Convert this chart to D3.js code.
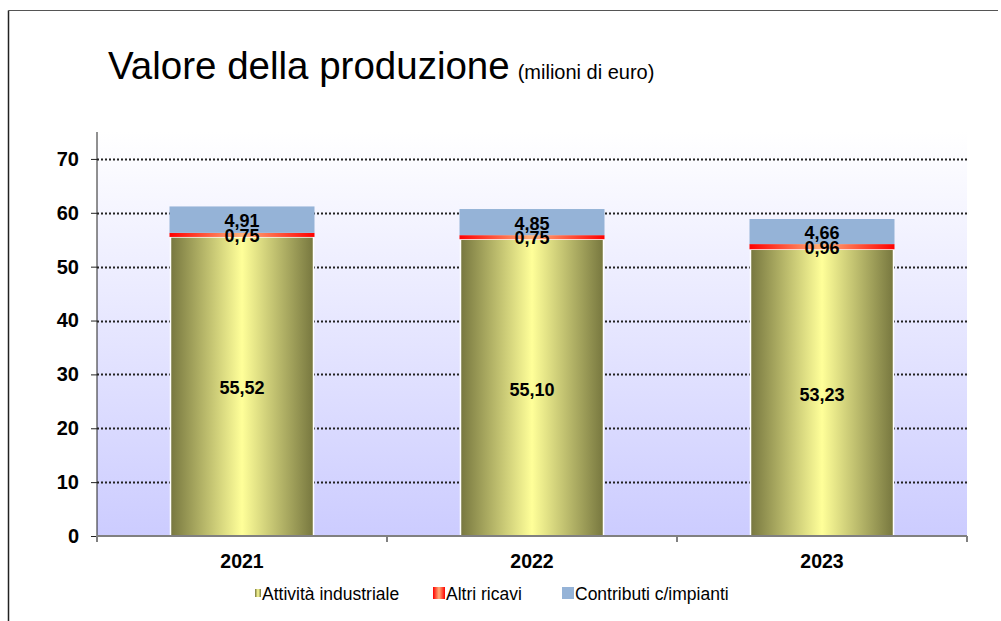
<!DOCTYPE html>
<html lang="it">
<head>
    <meta charset="UTF-8">
    <title>Valore della produzione</title>
    <script src="https://cdn.jsdelivr.net/npm/d3@7"></script>
    <style>
        body { margin: 0; background: #fff; }
        text { font-family: Arial, "Liberation Sans", sans-serif; }
    </style>
</head>
<body>
<script type="text/javascript">
    var years = ['2021', '2022', '2023'];
    var attivita = [55.52, 55.10, 53.23];
    var altri = [0.75, 0.75, 0.96];
    var contributi = [4.91, 4.85, 4.66];
    var yTicks = [0, 10, 20, 30, 40, 50, 60, 70];
    var seriesNames = ['Attività industriale', 'Altri ricavi', 'Contributi c/impianti'];

    var width = 1001;
    var height = 621;
    var svg = d3.select('body').append('svg')
            .attr('width', width)
            .attr('height', height);

    var defs = svg.append('defs');
    var bg = defs.append('linearGradient').attr('id', 'bg')
            .attr('x1', 0).attr('y1', 0).attr('x2', 0).attr('y2', 1);
    bg.append('stop').attr('offset', '0%').attr('stop-color', '#ffffff');
    bg.append('stop').attr('offset', '100%').attr('stop-color', '#ccccff');

    var olive = defs.append('linearGradient').attr('id', 'olive')
            .attr('x1', 0).attr('y1', 0).attr('x2', 1).attr('y2', 0);
    olive.append('stop').attr('offset', '0%').attr('stop-color', '#77773f');
    olive.append('stop').attr('offset', '50%').attr('stop-color', '#ffff99');
    olive.append('stop').attr('offset', '100%').attr('stop-color', '#77773f');

    var red = defs.append('linearGradient').attr('id', 'red')
            .attr('x1', 0).attr('y1', 0).attr('x2', 1).attr('y2', 0);
    red.append('stop').attr('offset', '0%').attr('stop-color', '#ff0000');
    red.append('stop').attr('offset', '50%').attr('stop-color', '#ffb07a');
    red.append('stop').attr('offset', '100%').attr('stop-color', '#ff0000');

    // cornice
    svg.append('line').attr('x1', 8.5).attr('y1', 10.5).attr('x2', 998).attr('y2', 10.5)
            .attr('stroke', '#555').attr('stroke-width', 1);
    svg.append('line').attr('x1', 8.5).attr('y1', 10.5).attr('x2', 8.5).attr('y2', 621)
            .attr('stroke', '#222').attr('stroke-width', 1.5);

    // titolo
    var title = svg.append('text').attr('x', 108).attr('y', 79);
    title.append('tspan').attr('font-size', 38.5).text('Valore della produzione');
    title.append('tspan').attr('font-size', 20).attr('dx', 8).text('(milioni di euro)');

    var pLeft = 97, pRight = 967, pTop = 132, pBottom = 536;
    var x = d3.scaleBand().domain(years).range([pLeft, pRight]).paddingInner(0.5).paddingOuter(0.25);
    var y = d3.scaleLinear().domain([0, 75]).range([pBottom, pTop]);

    svg.append('rect').attr('x', pLeft).attr('y', pTop)
            .attr('width', pRight - pLeft).attr('height', pBottom - pTop)
            .attr('fill', 'url(#bg)');

    // griglia
    svg.selectAll('.grid').data(yTicks.slice(1)).enter().append('line')
            .attr('class', 'grid')
            .attr('x1', pLeft).attr('x2', pRight)
            .attr('y1', function (d) { return Math.round(y(d)) + 0.5; })
            .attr('y2', function (d) { return Math.round(y(d)) + 0.5; })
            .attr('stroke', '#222').attr('stroke-width', 2)
            .attr('stroke-dasharray', '2,2');

    // barre
    var bw = x.bandwidth();
    var stacks = years.map(function (d, i) {
        return {year: d, a: attivita[i], r: altri[i], c: contributi[i]};
    });
    var g = svg.selectAll('.bar').data(stacks).enter().append('g').attr('class', 'bar');
    g.append('rect')
            .attr('x', function (d) { return x(d.year) + 1; })
            .attr('y', function (d) { return y(d.a); })
            .attr('width', bw - 2)
            .attr('height', function (d) { return y(0) - y(d.a); })
            .attr('fill', 'url(#olive)')
            .attr('stroke', '#fff').attr('stroke-width', 1.5);
    g.append('rect')
            .attr('x', function (d) { return x(d.year); })
            .attr('y', function (d) { return y(d.a + d.r); })
            .attr('width', bw)
            .attr('height', function (d) { return y(d.a) - y(d.a + d.r); })
            .attr('fill', 'url(#red)');
    g.append('rect')
            .attr('x', function (d) { return x(d.year); })
            .attr('y', function (d) { return y(d.a + d.r + d.c); })
            .attr('width', bw)
            .attr('height', function (d) { return y(d.a + d.r) - y(d.a + d.r + d.c); })
            .attr('fill', '#95b3d7');

    var fmt = function (v) { return v.toFixed(2).replace('.', ','); };
    g.append('text')
            .attr('x', function (d) { return x(d.year) + bw / 2; })
            .attr('y', function (d) { return y(d.a / 2) + 8; })
            .attr('text-anchor', 'middle').attr('font-weight', 'bold').attr('font-size', 18)
            .text(function (d) { return fmt(d.a); });
    g.append('text')
            .attr('x', function (d) { return x(d.year) + bw / 2; })
            .attr('y', function (d) { return y(d.a + d.r / 2) + 7; })
            .attr('text-anchor', 'middle').attr('font-weight', 'bold').attr('font-size', 18)
            .text(function (d) { return fmt(d.r); });
    g.append('text')
            .attr('x', function (d) { return x(d.year) + bw / 2; })
            .attr('y', function (d) { return y(d.a + d.r + d.c / 2) + 7.5; })
            .attr('text-anchor', 'middle').attr('font-weight', 'bold').attr('font-size', 18)
            .text(function (d) { return fmt(d.c); });

    // assi
    var yAxis = svg.append('g').attr('transform', 'translate(' + pLeft + ',0)')
            .call(d3.axisLeft(y).tickValues(yTicks).tickSize(6).tickPadding(12));
    yAxis.select('.domain').attr('stroke', '#222').attr('d', 'M0,' + pTop + 'V' + pBottom);
    yAxis.selectAll('.tick line').attr('stroke', '#222');
    yAxis.selectAll('text').attr('font-size', 20).attr('font-weight', 'bold')
            .attr('font-family', 'Arial, "Liberation Sans", sans-serif').attr('fill', '#000');

    var xAxis = svg.append('g').attr('transform', 'translate(0,' + pBottom + ')')
            .call(d3.axisBottom(x).tickSize(0));
    xAxis.select('.domain').attr('stroke', '#808080').attr('stroke-width', 2)
            .attr('d', 'M' + pLeft + ',0H' + pRight);
    xAxis.selectAll('text').attr('font-size', 19.5).attr('font-weight', 'bold')
            .attr('font-family', 'Arial, "Liberation Sans", sans-serif').attr('fill', '#000')
            .attr('y', 32).attr('dy', 0);
    var bounds = d3.range(years.length + 1).map(function (i) {
        return pLeft + i * (pRight - pLeft) / years.length;
    });
    xAxis.selectAll('.sep').data(bounds).enter().append('line')
            .attr('x1', function (d) { return d; }).attr('x2', function (d) { return d; })
            .attr('y1', 0).attr('y2', 6).attr('stroke', '#808080').attr('stroke-width', 2);

    // legenda
    var legend = svg.append('g').attr('transform', 'translate(0,593)');
    var legX = [250, 434, 563];
    var legFill = ['url(#olive)', 'url(#red)', '#95b3d7'];
    var legW = [6, 12, 12];
    var legH = [8, 12, 12];
    var li = legend.selectAll('.leg').data(seriesNames).enter().append('g').attr('class', 'leg')
            .attr('transform', function (d, i) { return 'translate(' + legX[i] + ',0)'; });
    li.append('rect')
            .attr('x', function (d, i) { return 12 - legW[i] - 1; })
            .attr('y', function (d, i) { return -legH[i] / 2; })
            .attr('width', function (d, i) { return legW[i]; })
            .attr('height', function (d, i) { return legH[i]; })
            .attr('fill', function (d, i) { return legFill[i]; });
    li.append('text').attr('x', 12).attr('y', 6.5).attr('font-size', 17.5).text(function (d) { return d; });
</script>
</body>
</html>
